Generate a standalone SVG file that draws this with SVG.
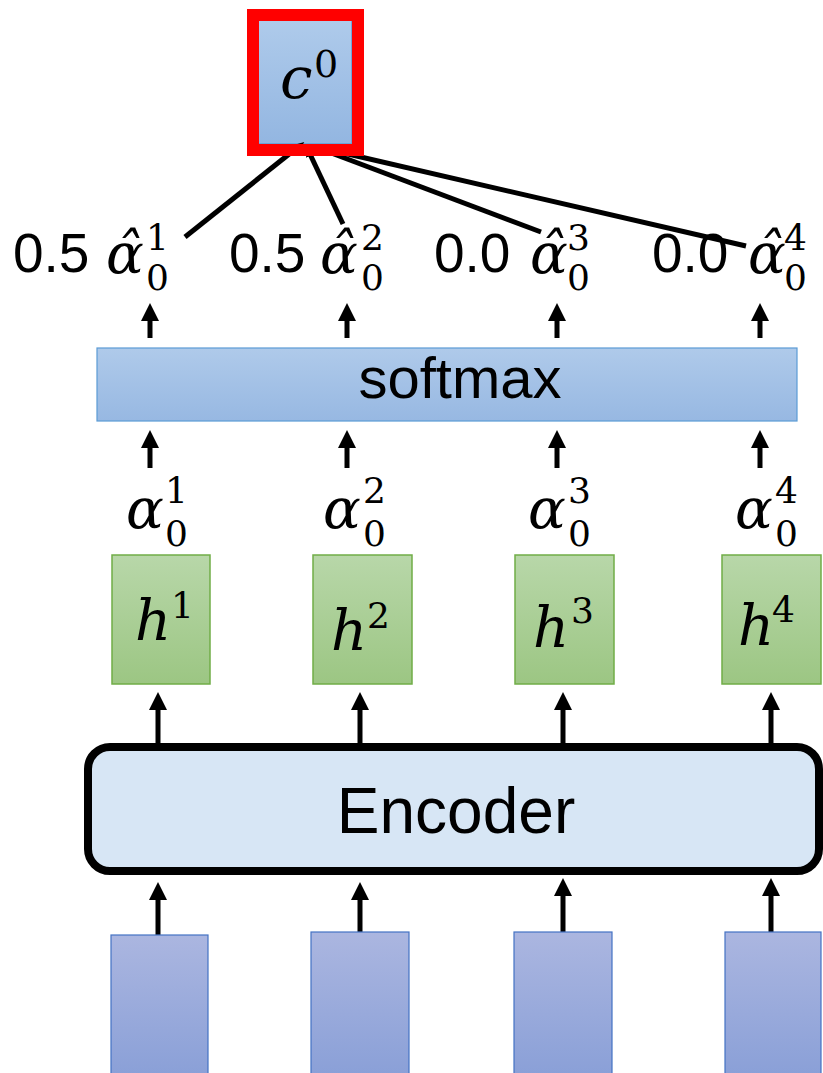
<svg xmlns="http://www.w3.org/2000/svg" width="823" height="1073" viewBox="0 0 823 1073">
<defs>
<linearGradient id="gBlue" x1="0" y1="0" x2="0" y2="1"><stop offset="0" stop-color="#afcbeb"/><stop offset="1" stop-color="#93b6e1"/></linearGradient>
<linearGradient id="gSoft" x1="0" y1="0" x2="0" y2="1"><stop offset="0" stop-color="#afcaea"/><stop offset="1" stop-color="#97b8e2"/></linearGradient>
<linearGradient id="gGreen" x1="0" y1="0" x2="0" y2="1"><stop offset="0" stop-color="#b8d7a9"/><stop offset="1" stop-color="#9cc683"/></linearGradient>
<linearGradient id="gIn" x1="0" y1="0" x2="0" y2="1"><stop offset="0" stop-color="#abb6e0"/><stop offset="1" stop-color="#899fd7"/></linearGradient>
<marker id="ah" markerUnits="userSpaceOnUse" markerWidth="18" markerHeight="18" refX="8" refY="9" orient="auto"><path d="M0,0 L18,9 L0,18 z" fill="#000"/></marker>
<marker id="ahs" markerUnits="userSpaceOnUse" markerWidth="12" markerHeight="10" refX="4" refY="5" orient="auto"><path d="M0,0 L12,5 L0,10 z" fill="#000"/></marker>
</defs>
<style>
.sans{font-family:"Liberation Sans",Arial,sans-serif;fill:#000}
.mi{font-family:"DejaVu Serif","Liberation Serif",serif;font-style:italic;fill:#000}
.mn{font-family:"DejaVu Serif","Liberation Serif",serif;fill:#000}
.arr{stroke:#000;stroke-width:5;fill:none;marker-end:url(#ah)}
.ln{stroke:#000;stroke-width:5;fill:none;marker-end:url(#ahs)}
.green{fill:url(#gGreen);stroke:#70ad47;stroke-width:1.5}
.inp{fill:url(#gIn);stroke:#4472c4;stroke-width:1.2}
</style>

<g id="c0">
<rect x="256" y="18" width="96" height="126" fill="url(#gBlue)" stroke="#5b9bd5" stroke-width="1.5"/>
<text class="mi" x="280" y="98" font-size="58">c</text>
<text class="mn" x="314" y="77" font-size="38">0</text>
</g>

<g id="connectors">
<line class="ln" x1="185" y1="237" x2="298" y2="147"/>
<line class="ln" x1="343" y1="224" x2="309" y2="152"/>
<line class="ln" x1="541" y1="232" x2="318" y2="148"/>
<line class="ln" x1="746" y1="246" x2="322" y2="148"/>
<line class="arr" x1="150" y1="338" x2="150" y2="313"/>
<line class="arr" x1="347" y1="338" x2="347" y2="313"/>
<line class="arr" x1="557" y1="338" x2="557" y2="313"/>
<line class="arr" x1="760" y1="338" x2="760" y2="313"/>
<line class="arr" x1="150" y1="468" x2="150" y2="440"/>
<line class="arr" x1="347" y1="468" x2="347" y2="440"/>
<line class="arr" x1="557" y1="468" x2="557" y2="440"/>
<line class="arr" x1="760" y1="468" x2="760" y2="440"/>
<line class="arr" x1="158" y1="745" x2="158" y2="702"/>
<line class="arr" x1="360" y1="745" x2="360" y2="702"/>
<line class="arr" x1="563" y1="745" x2="563" y2="702"/>
<line class="arr" x1="771" y1="745" x2="771" y2="702"/>
<line class="arr" x1="158" y1="935" x2="158" y2="892"/>
<line class="arr" x1="360" y1="932" x2="360" y2="892"/>
<line class="arr" x1="563" y1="932" x2="563" y2="888"/>
<line class="arr" x1="771" y1="932" x2="771" y2="888"/>
</g>

<g id="c0-highlight">
<rect x="253" y="15" width="105" height="135" fill="none" stroke="#ff0000" stroke-width="12"/>
</g>

<g id="weights">
<text class="sans" x="13" y="272" font-size="55">0.5</text>
<text class="mi" x="106" y="273" font-size="56">α̂</text>
<text class="mn" x="146" y="250" font-size="36">1</text>
<text class="mn" x="146" y="290" font-size="36">0</text>

<text class="sans" x="229" y="272" font-size="55">0.5</text>
<text class="mi" x="320" y="273" font-size="56">α̂</text>
<text class="mn" x="361" y="250" font-size="36">2</text>
<text class="mn" x="361" y="290" font-size="36">0</text>

<text class="sans" x="434" y="272" font-size="55">0.0</text>
<text class="mi" x="530" y="273" font-size="56">α̂</text>
<text class="mn" x="567" y="250" font-size="36">3</text>
<text class="mn" x="567" y="290" font-size="36">0</text>

<text class="sans" x="652" y="272" font-size="55">0.0</text>
<text class="mi" x="748" y="273" font-size="56">α̂</text>
<text class="mn" x="784" y="250" font-size="36">4</text>
<text class="mn" x="784" y="290" font-size="36">0</text>
</g>

<g id="softmax">
<rect x="97" y="348" width="700" height="73" fill="url(#gSoft)" stroke="#5b9bd5" stroke-width="1.2"/>
<text class="sans" x="460" y="398" font-size="58" text-anchor="middle">softmax</text>
</g>

<g id="scores">
<text class="mi" x="126" y="528" font-size="56">α</text>
<text class="mn" x="165" y="503" font-size="36">1</text>
<text class="mn" x="165" y="546" font-size="36">0</text>
<text class="mi" x="323" y="528" font-size="56">α</text>
<text class="mn" x="363" y="503" font-size="36">2</text>
<text class="mn" x="363" y="546" font-size="36">0</text>
<text class="mi" x="528" y="528" font-size="56">α</text>
<text class="mn" x="568" y="503" font-size="36">3</text>
<text class="mn" x="568" y="546" font-size="36">0</text>
<text class="mi" x="735" y="528" font-size="56">α</text>
<text class="mn" x="775" y="503" font-size="36">4</text>
<text class="mn" x="775" y="546" font-size="36">0</text>
</g>

<g id="h1"><rect class="green" x="112" y="555" width="98" height="129"/><text class="mi" x="135" y="640" font-size="56">h</text><text class="mn" x="171" y="618" font-size="36">1</text></g>
<g id="h2"><rect class="green" x="313" y="555" width="99" height="129"/><text class="mi" x="331" y="650" font-size="56">h</text><text class="mn" x="367" y="628" font-size="36">2</text></g>
<g id="h3"><rect class="green" x="515" y="555" width="99" height="129"/><text class="mi" x="533" y="647" font-size="56">h</text><text class="mn" x="571" y="623" font-size="36">3</text></g>
<g id="h4"><rect class="green" x="722" y="555" width="99" height="129"/><text class="mi" x="738" y="645" font-size="56">h</text><text class="mn" x="772" y="622" font-size="36">4</text></g>

<g id="encoder">
<rect x="88" y="747" width="731" height="124" rx="22" fill="#d7e6f5" stroke="#000" stroke-width="8"/>
<text class="sans" x="456" y="833" font-size="64" text-anchor="middle">Encoder</text>
</g>

<g id="x1"><rect class="inp" x="111" y="935" width="97" height="145"/></g>
<g id="x2"><rect class="inp" x="311" y="932" width="98" height="148"/></g>
<g id="x3"><rect class="inp" x="514" y="932" width="98" height="148"/></g>
<g id="x4"><rect class="inp" x="725" y="932" width="96" height="148"/></g>
</svg>
